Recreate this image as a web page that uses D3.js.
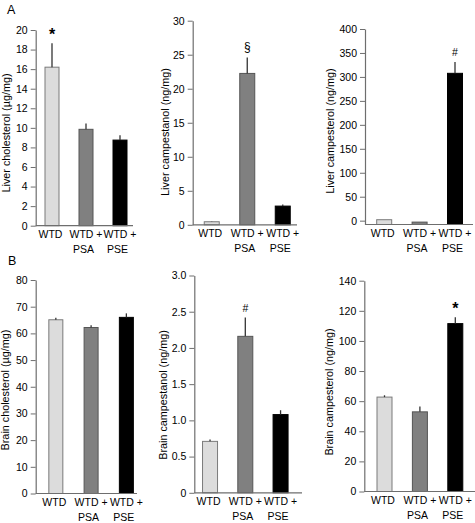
<!DOCTYPE html>
<html>
<head>
<meta charset="utf-8">
<script src="https://cdn.jsdelivr.net/npm/d3@7"></script>
<style>
  html, body { margin: 0; padding: 0; background: #fff; }
  svg { display: block; font-family: Arial, "Liberation Sans", Helvetica, sans-serif; }
</style>
</head>
<body>
<svg id="chart" width="475" height="523"></svg>
<script>
// ---------------- data ----------------
const categories = ["WTD", "WTD + PSA", "WTD + PSE"];

const liverCholesterol    = [16.2, 9.85, 8.75];
const liverCholesterolErr = [2.45, 0.6, 0.5];
const liverCampestanol    = [0.45, 22.25, 2.75];
const liverCampestanolErr = [0.05, 2.35, 0.25];
const liverCampesterol    = [2, -3, 307.5];
const liverCampesterolErr = [0, 0, 23.5];
const brainCholesterol    = [65.1, 62.2, 66.0];
const brainCholesterolErr = [0.8, 0.8, 1.5];
const brainCampestanol    = [0.71, 2.16, 1.08];
const brainCampestanolErr = [0.025, 0.26, 0.06];
const brainCampesterol    = [62.7, 52.9, 111.5];
const brainCampesterolErr = [1.2, 3.5, 4.2];

const ticksA1 = [0, 2, 4, 6, 8, 10, 12, 14, 16, 18, 20];
const ticksA2 = [0, 5, 10, 15, 20, 25, 30];
const ticksA3 = [0, 50, 100, 150, 200, 250, 300, 350, 400];
const ticksB1 = [0, 10, 20, 30, 40, 50, 60, 70, 80];
const ticksB2 = [0, 0.5, 1.0, 1.5, 2.0, 2.5, 3.0];
const ticksB3 = [0, 20, 40, 60, 80, 100, 120, 140];

const marksA1 = ["*", "", ""];
const marksA2 = ["", "§", ""];
const marksA3 = ["", "", "#"];
const marksB1 = ["", "", ""];
const marksB2 = ["", "#", ""];
const marksB3 = ["", "", "*"];

const labelA1 = "Liver cholesterol (µg/mg)";
const labelA2 = "Liver campestanol (ng/mg)";
const labelA3 = "Liver campesterol (ng/mg)";
const labelB1 = "Brain cholesterol (µg/mg)";
const labelB2 = "Brain campestanol (ng/mg)";
const labelB3 = "Brain campesterol (ng/mg)";

// ---------------- styles / layout ----------------
const fills   = ["#dcdcdc", "#808080", "#000000"];
const strokes = ["#7a7a7a", "#555555", "#000000"];

const panels = [
  { values: liverCholesterol, errs: liverCholesterolErr, ticks: ticksA1, marks: marksA1, label: labelA1,
    domain: [0, 20], yr: [225.7, 30], ax: 35.7, xr: [35, 137], xEnd: 133, bw: 14, lx: 9.5, ly: 133, fmt: d3.format("d") },
  { values: liverCampestanol, errs: liverCampestanolErr, ticks: ticksA2, marks: marksA2, label: labelA2,
    domain: [0, 30], yr: [224.8, 20.7], ax: 192.7, xr: [194, 300.5], xEnd: 297, bw: 15, lx: 169, ly: 132, fmt: d3.format("d") },
  { values: liverCampesterol, errs: liverCampesterolErr, ticks: ticksA3, marks: marksA3, label: labelA3,
    domain: [-8, 400], yr: [224.5, 29], ax: 365, xr: [366.5, 472.7], xEnd: 473, bw: 15, lx: 333.5, ly: 131, fmt: d3.format("d") },
  { values: brainCholesterol, errs: brainCholesterolErr, ticks: ticksB1, marks: marksB1, label: labelB1,
    domain: [0, 80], yr: [493.5, 280], ax: 35.7, xr: [38.2, 144], xEnd: 137, bw: 14, lx: 8.5, ly: 390, fmt: d3.format("d") },
  { values: brainCampestanol, errs: brainCampestanolErr, ticks: ticksB2, marks: marksB2, label: labelB2,
    domain: [0, 3], yr: [492.8, 275.5], ax: 194.3, xr: [192.4, 298.2], xEnd: 302, bw: 15, lx: 166.5, ly: 395, fmt: d => d === 0 ? "0" : d3.format(".1f")(d) },
  { values: brainCampesterol, errs: brainCampesterolErr, ticks: ticksB3, marks: marksB3, label: labelB3,
    domain: [0, 140], yr: [491.5, 280.7], ax: 364.3, xr: [366.8, 473], xEnd: 475, bw: 15, lx: 332.5, ly: 392, fmt: d3.format("d") }
];

const svg = d3.select("#chart");
const axisColor = "#6e6e6e";

panels.forEach(p => {
  const g = svg.append("g");
  const y = d3.scaleLinear().domain(p.domain).range(p.yr);
  const x = d3.scalePoint().domain(categories).range(p.xr).padding(0.5);
  const base = y(p.domain[0]);

  // bars
  g.selectAll("rect.bar").data(p.values).join("rect")
    .attr("class", "bar")
    .attr("x", (d, i) => x(categories[i]) - p.bw / 2)
    .attr("width", p.bw)
    .attr("y", d => Math.min(y(d), base))
    .attr("height", d => Math.abs(base - y(d)))
    .attr("fill", (d, i) => fills[i])
    .attr("stroke", (d, i) => strokes[i])
    .attr("stroke-width", 1);

  // error bars (upper only)
  g.selectAll("line.err").data(p.values).join("line")
    .attr("class", "err")
    .attr("x1", (d, i) => x(categories[i]))
    .attr("x2", (d, i) => x(categories[i]))
    .attr("y1", d => y(d))
    .attr("y2", (d, i) => y(d + p.errs[i]))
    .attr("stroke", "#333")
    .attr("stroke-width", 1.3)
    .attr("display", (d, i) => p.errs[i] > 0 ? null : "none");

  // significance marks
  g.selectAll("text.mark").data(p.marks).join("text")
    .attr("class", "mark")
    .attr("x", (d, i) => x(categories[i]))
    .attr("y", (d, i) => y(p.values[i] + p.errs[i]) - (d === "*" ? 3 : 6))
    .attr("text-anchor", "middle")
    .attr("font-size", d => d === "*" ? 16 : (d === "§" ? 12 : 10.5))
    .attr("font-weight", d => d === "*" ? "bold" : "normal")
    .attr("fill", "#000")
    .text(d => d);

  // y axis
  const yAxis = d3.axisLeft(y).tickValues(p.ticks).tickSize(5).tickSizeOuter(0).tickPadding(3).tickFormat(p.fmt);
  const ya = g.append("g").attr("transform", `translate(${p.ax},0)`).call(yAxis);
  ya.select(".domain").attr("stroke", axisColor).attr("stroke-width", 1.2);
  ya.selectAll(".tick line").attr("stroke", axisColor);
  ya.selectAll(".tick text").attr("font-size", 10.5).attr("fill", "#000")
    .attr("font-family", "Arial, 'Liberation Sans', sans-serif");

  // x axis baseline
  g.append("line")
    .attr("x1", p.ax).attr("x2", p.xEnd)
    .attr("y1", base).attr("y2", base)
    .attr("stroke", axisColor).attr("stroke-width", 1.2);

  // x labels
  categories.forEach(c => {
    const parts = c.split(" + ");
    const cx = x(c);
    const t = g.append("text").attr("font-size", 10.5).attr("fill", "#000");
    if (parts.length === 1) {
      t.attr("x", cx - 1.5).attr("y", base + 12.5).attr("text-anchor", "middle").text(parts[0]);
    } else {
      t.attr("x", cx).attr("y", base + 12.5).attr("text-anchor", "middle").text(parts[0] + " +");
      g.append("text").attr("font-size", 10.5).attr("fill", "#000")
        .attr("x", cx - 2.5).attr("y", base + 27).attr("text-anchor", "middle").text(parts[1]);
    }
  });

  // y label
  g.append("text")
    .attr("transform", `translate(${p.lx},${p.ly}) rotate(-90)`)
    .attr("text-anchor", "middle")
    .attr("font-size", 10.8)
    .attr("fill", "#000")
    .text(p.label);
});

// panel letters
svg.append("text").attr("x", 7).attr("y", 14).attr("font-size", 12.5).text("A");
svg.append("text").attr("x", 8).attr("y", 265).attr("font-size", 12.5).text("B");
</script>
</body>
</html>
